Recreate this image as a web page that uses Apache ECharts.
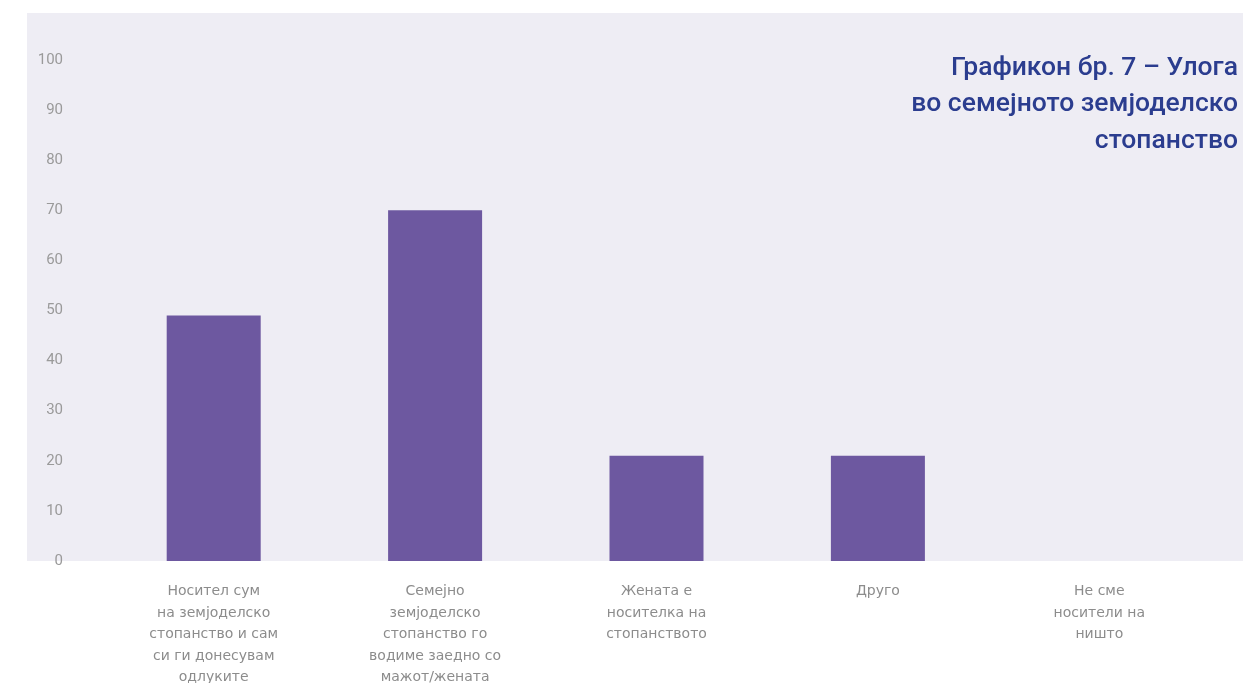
<!DOCTYPE html>
<html>
<head>
<meta charset="utf-8">
<script src="https://cdn.jsdelivr.net/npm/echarts@6/dist/echarts.min.js"></script>
<style>
html,body{margin:0;padding:0;background:#ffffff;}
#chart{width:1243px;height:683px;}
</style>
</head>
<body>
<div id="chart"></div>
<script>
const titleLines = ['Графикон бр. 7 – Улога', 'во семејното земјоделско', 'стопанство'];
const categories = [
  'Носител сум\nна земјоделско\nстопанство и сам\nси ги донесувам\nодлуките',
  'Семејно\nземјоделско\nстопанство го\nводиме заедно со\nмажот/жената',
  'Жената е\nносителка на\nстопанството',
  'Друго',
  'Не сме\nносители на\nништо'
];
const values = [49, 70, 21, 21, 0];
const yMin = 0, yMax = 100, yInterval = 10;

const chart = echarts.init(document.getElementById('chart'), null, {renderer: 'canvas'});
chart.setOption({
  backgroundColor: '#ffffff',
  animation: false,
  graphic: [{
    type: 'rect',
    z: -10,
    shape: {x: 27, y: 13, width: 1216, height: 548},
    style: {fill: '#eeedf4'}
  }],
  title: {
    text: titleLines.join('\n'),
    left: 1233,
    textAlign: 'right',
    top: 45,
    textStyle: {
      color: '#2b3d8f',
      fontFamily: 'Roboto',
      fontWeight: 500,
      fontSize: 26.5,
      lineHeight: 36.5,
      align: 'right'
    }
  },
  grid: {left: 103, right: 33, top: 60, bottom: 122, containLabel: false, outerBoundsMode: 'none'},
  xAxis: {
    type: 'category',
    data: categories,
    axisLine: {show: false},
    axisTick: {show: false},
    axisLabel: {
      interval: 0,
      margin: 20,
      color: '#8c8c8c',
      fontFamily: 'DejaVu Sans',
      fontSize: 14,
      lineHeight: 21.5,
      verticalAlign: 'top'
    }
  },
  yAxis: {
    type: 'value',
    min: yMin,
    max: yMax,
    interval: yInterval,
    axisLine: {show: false},
    axisTick: {show: false},
    splitLine: {show: false},
    axisLabel: {
      margin: 40,
      color: '#9a9a9a',
      fontFamily: 'Roboto',
      fontSize: 15
    }
  },
  series: [{
    type: 'bar',
    data: values,
    barWidth: 94,
    itemStyle: {color: '#6d58a0'}
  }]
});
</script>
</body>
</html>
